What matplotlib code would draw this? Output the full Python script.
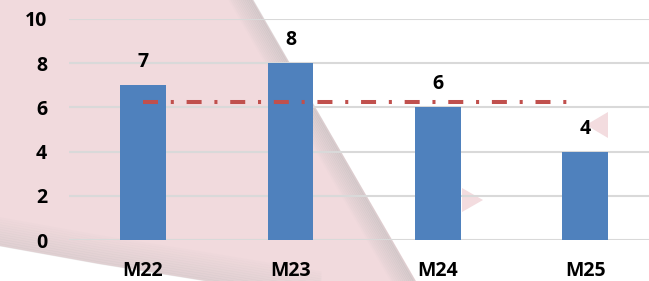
import matplotlib
matplotlib.use("Agg")
import matplotlib.pyplot as plt
from matplotlib.patches import Polygon
import numpy as np

months = ["M22", "M23", "M24", "M25"]
counts = [7, 8, 6, 4]
y_ticks = [0, 2, 4, 6, 8, 10]

W, H = 649, 281
plt.rcParams['font.family'] = ['Open Sans', 'DejaVu Sans']
plt.rcParams['lines.scale_dashes'] = False

fig = plt.figure(figsize=(W / 100, H / 100), dpi=100)
fig.patch.set_facecolor("white")


def px(pts):
    # pixel coords (top-left origin) -> figure fraction
    return [(x / W, 1 - y / H) for x, y in pts]


# faint watermark behind the chart
pink = "#f1dadd"
bottom_edge = [(0, 246), (100, 264), (200, 280), (320, 300)]
fig.patches.append(Polygon(px([(0, 0), (253, 0), (427, 300)] + bottom_edge[::-1]),
                           closed=True, transform=fig.transFigure, fc=pink, ec="none", zorder=-5))
# soft grey shadows along the watermark edges
for k in range(12):
    off = k * 2.0
    a = 0.36 - k * 0.028
    fig.lines.append(plt.Line2D([(252 - off) / W, (414 - off) / W], [1, 0],
                                transform=fig.transFigure, color="#b8b8b8", lw=2.0, alpha=a, zorder=-4))
    xs = [p[0] / W for p in bottom_edge]
    ys = [1 - (p[1] - 1 - off * 1.2) / H for p in bottom_edge]
    fig.lines.append(plt.Line2D(xs, ys, transform=fig.transFigure, color="#b8b8b8",
                                lw=2.0, alpha=a * 0.8, zorder=-4))
fig.patches.append(Polygon(px([(586, 125), (608, 112), (608, 138)]), closed=True,
                           transform=fig.transFigure, fc="#f3dcdf", ec="none", zorder=-5))
fig.patches.append(Polygon(px([(462, 188), (483, 200), (462, 212)]), closed=True,
                           transform=fig.transFigure, fc="#f3dcdf", ec="none", zorder=-5))

ax = fig.add_axes([69.25 / W, 41 / H, (W - 69.25) / W, 221 / H])
ax.set_zorder(2)
ax.set_facecolor("none")

x = np.arange(len(months))
bars = ax.bar(x, counts, width=0.31, color="#4f81bd", zorder=3)

for b, v in zip(bars, counts):
    ax.annotate(str(v), (b.get_x() + b.get_width() / 2, v), xytext=(0, 13),
                textcoords="offset points", ha="center", va="baseline",
                fontsize=14, fontweight="bold", color="black")

# average line
avg = np.mean(counts)
ln, = ax.plot([0, 2.9], [avg, avg], color="#c0504d", lw=2.9, zorder=4,
              solid_capstyle="butt", dash_capstyle="butt")
ln.set_dashes([10.8, 9.2, 2.2, 9.2])

ax.set_xlim(-0.5, 3.5 - 10 / 147.5)
ax.set_ylim(0, 10)
ax.set_yticks(y_ticks)
ax.set_xticks(x)
ax.set_xticklabels(months)
ax.tick_params(axis="y", length=0, pad=16, labelsize=14)
ax.tick_params(axis="x", length=0, pad=15, labelsize=14)
for lab in ax.get_xticklabels() + ax.get_yticklabels():
    lab.set_fontweight("bold")
ax.grid(axis="y", color="#d9d9d9", lw=1.5, zorder=1)
ax.set_axisbelow(True)
for s in ax.spines.values():
    s.set_visible(False)

fig.savefig("out.png", dpi=100, facecolor=fig.get_facecolor())
